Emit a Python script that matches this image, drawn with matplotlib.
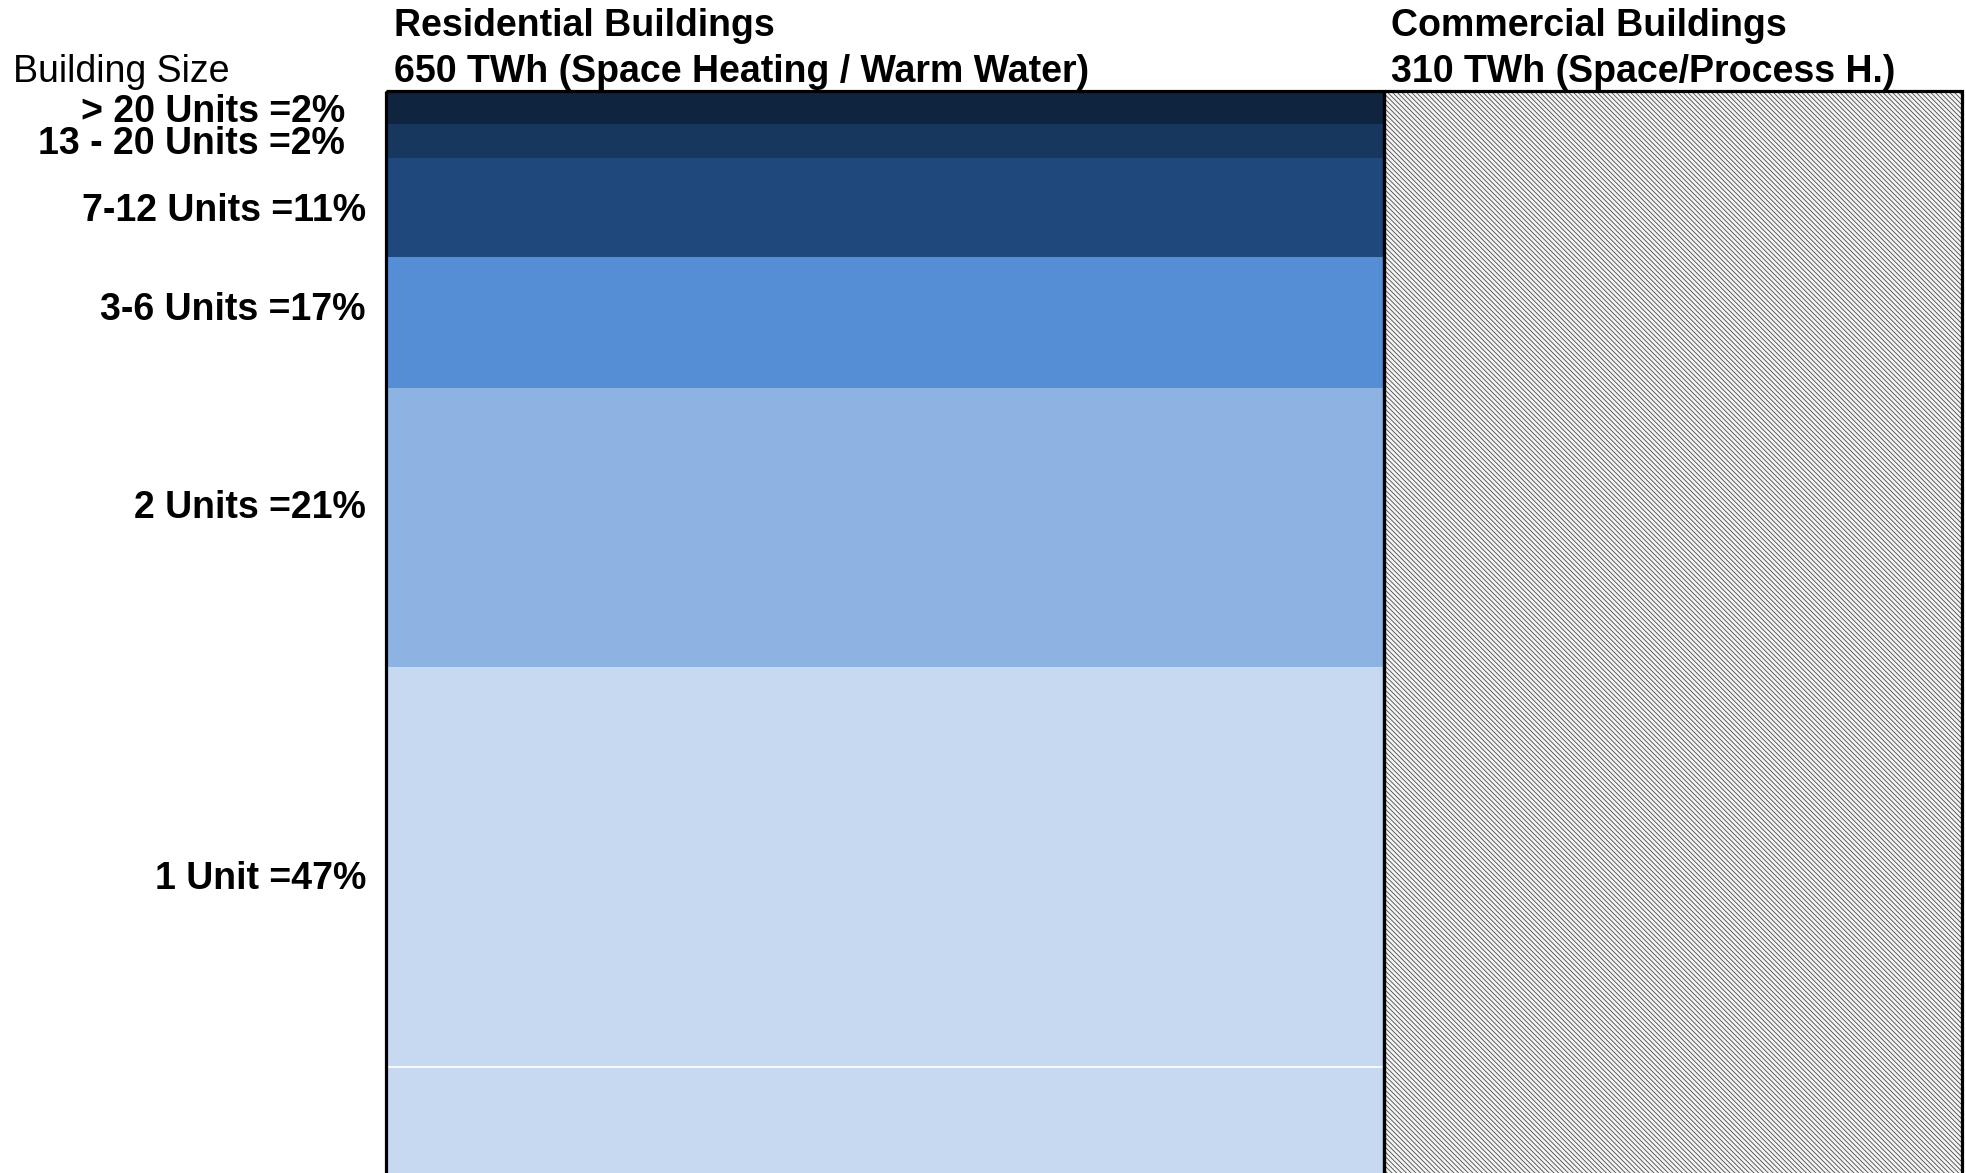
import matplotlib
matplotlib.use('Agg')
import matplotlib.pyplot as plt
from matplotlib.patches import Rectangle

plt.rcParams['font.family'] = ['Liberation Sans', 'DejaVu Sans']
plt.rcParams['hatch.linewidth'] = 0.6

# chart data
sizes = ['> 20 Units', '13 - 20 Units', '7-12 Units', '3-6 Units', '2 Units', '1 Unit']
shares = [2, 2, 11, 17, 21, 47]                 # % printed in the labels
drawn_heights = [33, 34, 99, 131, 279, 540]     # band heights as drawn (not to scale)
colors = ['#0F243E', '#17375E', '#1F497D', '#558ED5', '#8DB3E2', '#C6D9F1']
sectors = ['Residential Buildings', 'Commercial Buildings']
sector_twh = [650, 310]
sector_notes = ['Space Heating / Warm Water', 'Space/Process H.']
drawn_widths = [998, 578]                       # column widths as drawn

W, H = 1966, 1173
fig = plt.figure(figsize=(W / 100, H / 100), dpi=100)

def ftext(x, y, s, **kw):
    # place text by pixel position (top-left origin)
    fig.text(x / W, 1 - y / H, s, fontsize=27, va='baseline', **kw)

# mosaic axes: 1 unit = 1 pixel, y grows downward
top = 91
left = 386
ax = fig.add_axes([left / W, 0, sum(drawn_widths) / W, (H - top) / H])
ax.set_xlim(0, sum(drawn_widths))
ax.set_ylim(H - top, 0)
ax.axis('off')

# residential stacked bands
bottom = 0
for h, c in zip(drawn_heights, colors):
    ax.bar(0, h, width=drawn_widths[0], bottom=bottom, color=c, align='edge',
           linewidth=0, clip_on=False)
    bottom += h

# faint white gridline near the bottom
ax.axhline(1067 - top, color='white', lw=1.2, zorder=2)

# commercial column: fine diagonal hatch
ax.add_patch(Rectangle((drawn_widths[0], 0), drawn_widths[1], 2000, facecolor='#f4f4f4',
                       edgecolor='#4a4a4a', hatch='\\' * 7, lw=0, zorder=3,
                       clip_on=False))

# black outlines
x0 = 0
for w in drawn_widths:
    ax.add_patch(Rectangle((x0, 0), w, 2000, fill=False, edgecolor='black', lw=2.3,
                           zorder=5, clip_on=False))
    x0 += w

# headers
header_x = [394, 1391]
for hx, name, twh, note in zip(header_x, sectors, sector_twh, sector_notes):
    ftext(hx, 36, name, fontweight='bold')
    ftext(hx, 82, f'{twh} TWh ({note})', fontweight='bold')

ftext(13, 82, 'Building Size')

# band labels
label_x = [345, 345, 366, 366, 366, 366]
label_y = [122, 154, 221, 320, 518, 889]
for s, p, lx, ly in zip(sizes, shares, label_x, label_y):
    ftext(lx, ly, f'{s} ={p}%', fontweight='bold', ha='right')

fig.savefig('out.png', dpi=100)
